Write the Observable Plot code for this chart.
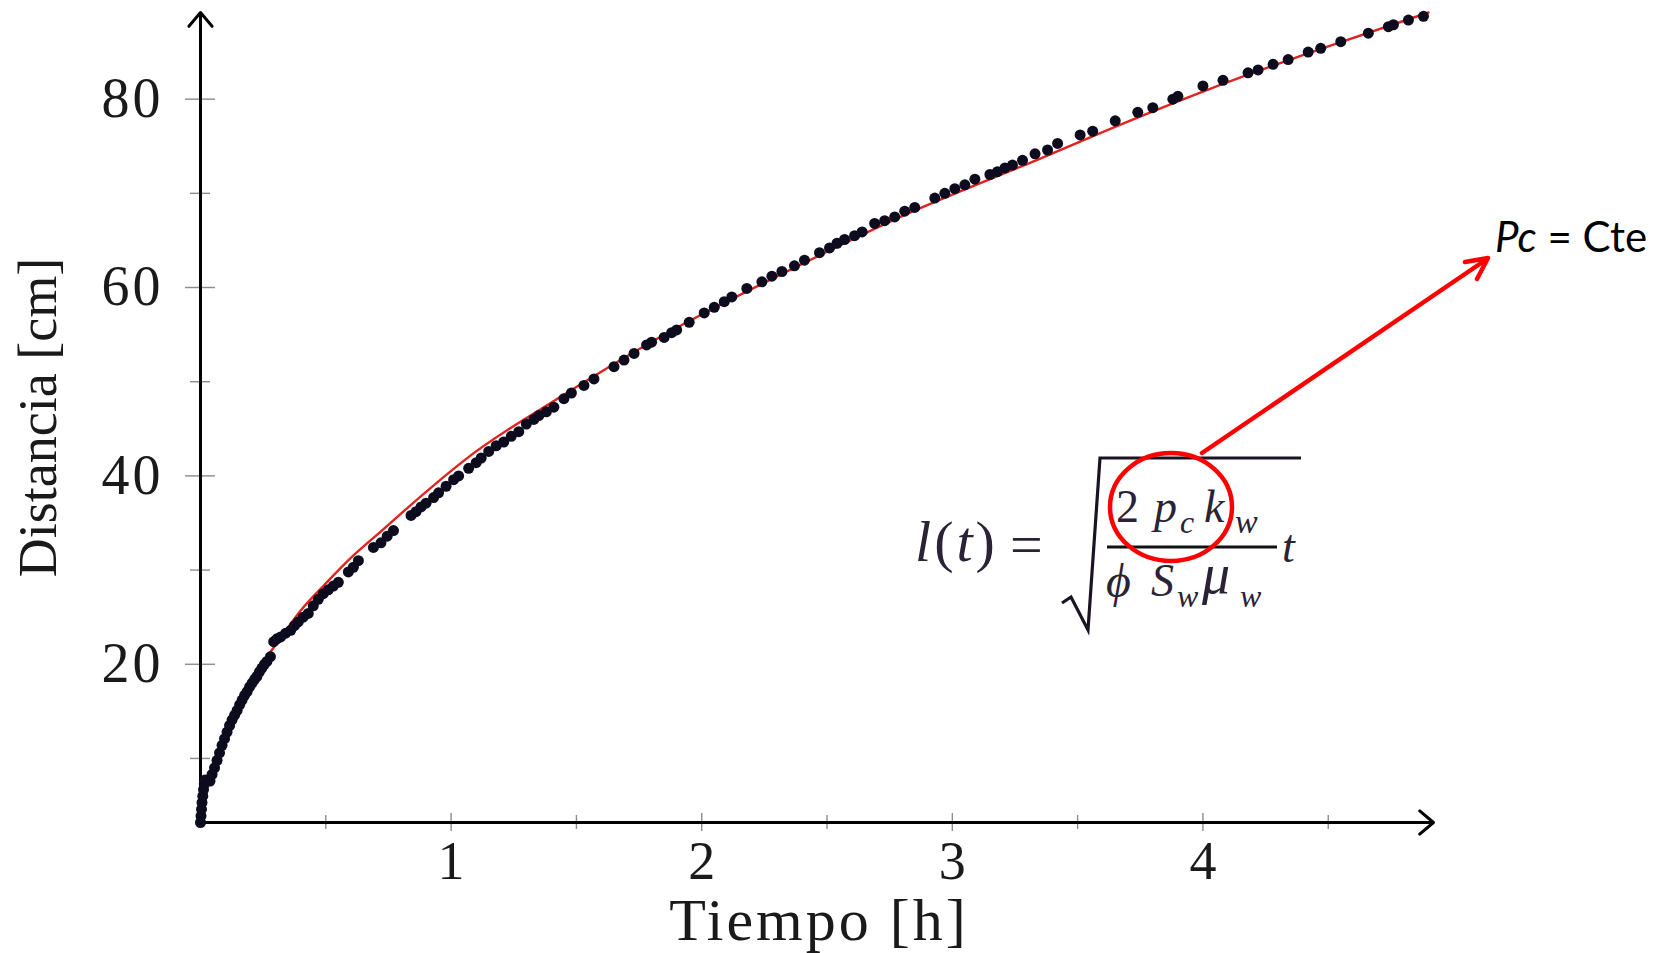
<!DOCTYPE html>
<html>
<head>
<meta charset="utf-8">
<script src="https://cdn.jsdelivr.net/npm/d3@7"></script>
<script src="https://cdn.jsdelivr.net/npm/@observablehq/plot@0.6"></script>
<style>
  html, body { margin: 0; padding: 0; background: #fff; }
  #chart { width: 1663px; height: 953px; }
</style>
</head>
<body>
<div id="chart"></div>
<script>
// ---- data ----
const tiempo = [
  0.000, 0.002, 0.004, 0.006, 0.009, 0.012, 0.015, 0.018, 0.038, 0.046,
  0.056, 0.066, 0.076, 0.086, 0.096, 0.106, 0.116, 0.126, 0.136, 0.146,
  0.156, 0.166, 0.176, 0.186, 0.196, 0.206, 0.216, 0.225, 0.235, 0.245,
  0.255, 0.265, 0.279, 0.292, 0.305, 0.320, 0.340, 0.360, 0.375, 0.390,
  0.410, 0.430, 0.450, 0.470, 0.490, 0.510, 0.530, 0.550, 0.590, 0.610,
  0.630, 0.690, 0.720, 0.745, 0.770, 0.840, 0.860, 0.880, 0.900, 0.930,
  0.950, 0.980, 1.010, 1.030, 1.070, 1.100, 1.120, 1.150, 1.180, 1.210,
  1.240, 1.270, 1.300, 1.330, 1.350, 1.380, 1.410, 1.450, 1.480, 1.530,
  1.570, 1.650, 1.690, 1.730, 1.780, 1.800, 1.850, 1.880, 1.900, 1.950,
  2.010, 2.050, 2.090, 2.120, 2.180, 2.240, 2.280, 2.320, 2.370, 2.410,
  2.470, 2.510, 2.540, 2.570, 2.610, 2.640, 2.690, 2.730, 2.770, 2.810,
  2.850, 2.930, 2.970, 3.010, 3.050, 3.090, 3.150, 3.180, 3.210, 3.240,
  3.280, 3.330, 3.380, 3.420, 3.510, 3.560, 3.650, 3.740, 3.800, 3.880,
  3.900, 4.000, 4.080, 4.180, 4.220, 4.280, 4.340, 4.420, 4.470, 4.550,
  4.660, 4.740, 4.760, 4.820, 4.880
];
const distancia = [
  3.2, 3.9, 4.6, 5.3, 6.0, 6.7, 7.3, 7.7, 7.6, 8.3,
  9.0, 9.8, 10.6, 11.4, 12.1, 12.8, 13.5, 14.1, 14.6, 15.1,
  15.7, 16.2, 16.7, 17.1, 17.6, 18.0, 18.4, 18.7, 19.2, 19.6,
  20.0, 20.3, 20.8, 22.4, 22.7, 22.9, 23.3, 23.6, 24.1, 24.5,
  25.0, 25.4, 26.2, 26.9, 27.5, 27.9, 28.3, 28.7, 29.8, 30.3,
  31.0, 32.4, 32.9, 33.6, 34.2, 35.8, 36.2, 36.7, 37.1, 37.7,
  38.2, 38.9, 39.6, 40.0, 40.8, 41.4, 41.9, 42.6, 43.2, 43.6,
  44.2, 44.7, 45.5, 46.0, 46.4, 46.8, 47.3, 48.2, 48.8, 49.6,
  50.3, 51.6, 52.3, 53.0, 53.9, 54.2, 54.7, 55.2, 55.5, 56.3,
  57.3, 57.9, 58.5, 59.0, 59.9, 60.6, 61.2, 61.7, 62.3, 62.9,
  63.7, 64.2, 64.7, 65.1, 65.5, 65.9, 66.8, 67.1, 67.5, 68.1,
  68.5, 69.5, 70.0, 70.5, 70.9, 71.5, 72.0, 72.3, 72.7, 73.0,
  73.5, 74.2, 74.6, 75.3, 76.2, 76.6, 77.7, 78.6, 79.1, 80.0,
  80.3, 81.4, 82.0, 82.8, 83.1, 83.7, 84.2, 85.0, 85.4, 86.1,
  87.0, 87.7, 87.9, 88.4, 88.8
];
// red fitted curve
const tAjuste = [0.00, 0.01, 0.03, 0.06, 0.10, 0.15, 0.20, 0.29, 0.40, 0.49, 0.60, 0.72, 0.80, 1.05, 1.28, 1.62, 1.99, 2.50, 2.87, 3.27, 3.51, 4.00, 4.50, 4.90];
const lAjuste = [3.2, 4.2, 7.2, 10.1, 13.0, 16.0, 18.4, 21.7, 25.7, 28.3, 31.3, 34.1, 36.0, 41.6, 45.8, 51.4, 57.0, 63.8, 68.4, 72.8, 75.5, 80.8, 85.6, 89.2];

const xTicksMayores = [1, 2, 3, 4];
const xTicksMenores = [0.5, 1.5, 2.5, 3.5, 4.5];
const yTicksMayores = [20, 40, 60, 80];
const yTicksMenores = [10, 30, 50, 70];
const xDominio = [0, 4.92];
const yDominio = [3.2, 89.2];
const etiquetaX = "Tiempo [h]";
const etiquetaY = "Distancia [cm]";
const notaPc = "Pc";
const notaResto = " = Cte";

const puntos = tiempo.map((t, i) => ({t, l: distancia[i]}));
const ajuste = tAjuste.map((t, i) => ({t, l: lAjuste[i]}));
const ejes = [
  {x1: xDominio[0], y1: yDominio[0], x2: xDominio[0], y2: yDominio[1]},
  {x1: xDominio[0], y1: yDominio[0], x2: xDominio[1], y2: yDominio[0]}
];

const serif = "'Liberation Serif', 'Times New Roman', serif";

const chart = Plot.plot({
  width: 1663,
  height: 953,
  marginLeft: 200,
  marginRight: 230,
  marginTop: 12,
  marginBottom: 131,
  style: {fontFamily: serif, background: "#fff", color: "#1a1a1a", overflow: "visible"},
  x: {domain: xDominio, axis: null},
  y: {domain: yDominio, axis: null},
  marks: [
    // tick marks crossing the axes
    Plot.axisX({ticks: xTicksMenores, tickSize: 14, dy: -7, tickFormat: () => "", label: null, stroke: "#8c8c8c", strokeWidth: 1.4}),
    Plot.axisX({ticks: xTicksMayores, tickSize: 18, dy: -9, tickFormat: () => "", label: null, stroke: "#8c8c8c", strokeWidth: 1.4}),
    Plot.axisY({ticks: yTicksMenores, tickSize: 20, dx: 10, tickFormat: () => "", label: null, stroke: "#8c8c8c", strokeWidth: 1.4}),
    Plot.axisY({ticks: yTicksMayores, tickSize: 30, dx: 15, tickFormat: () => "", label: null, stroke: "#8c8c8c", strokeWidth: 1.4}),
    // tick labels
    Plot.axisX({ticks: xTicksMayores, tickSize: 0, tickPadding: 18, tickFormat: d => String(d), label: null, fontSize: 54, fill: "#1a1a1a"}),
    Plot.axisY({ticks: yTicksMayores, tickSize: 0, tickPadding: 37, tickFormat: d => String(d), label: null, fontSize: 56, fill: "#1a1a1a"}),
    // axes with arrows
    Plot.arrow(ejes, {x1: "x1", y1: "y1", x2: "x2", y2: "y2", stroke: "#000", strokeWidth: 3, headLength: 9, headAngle: 80}),
    // fitted curve
    Plot.line(ajuste, {x: "t", y: "l", stroke: "#e3211f", strokeWidth: 2.4, curve: "natural"}),
    // measured points
    Plot.dot(puntos, {x: "t", y: "l", r: 5.5, fill: "#0c0c1e", stroke: null}),
    // axis titles
    Plot.text([etiquetaX], {text: d => d, frameAnchor: "bottom", lineAnchor: "middle", textAnchor: "middle", dy: 98, dx: 2, fontSize: 60, fill: "#1a1a1a"}),
    Plot.text([etiquetaY], {text: d => d, frameAnchor: "left", lineAnchor: "middle", textAnchor: "middle", dx: -162, rotate: -90, fontSize: 54, fill: "#1a1a1a"})
  ]
});

document.getElementById("chart").appendChild(chart);

const svg = d3.select(chart);
// widen the Computer-Modern-like labels
svg.selectAll("text").filter(function () { return this.textContent === etiquetaX; })
  .attr("letter-spacing", 3);
const yLabs = yTicksMayores.map(String);
svg.selectAll("text").filter(function () { return yLabs.includes(this.textContent); })
  .attr("letter-spacing", 3);

// ---- formula + red annotation overlay ----
const g = svg.append("g").attr("font-family", serif).attr("fill", "#2a2236").attr("text-anchor", "start");
function txt(x, y, s, size, italic) {
  g.append("text").attr("x", x).attr("y", y).attr("font-size", size)
    .attr("font-style", italic ? "italic" : "normal").text(s);
}
// l(t) =
const lt = g.append("text").attr("x", 915).attr("y", 561).attr("font-size", 58).attr("letter-spacing", 3);
lt.append("tspan").attr("font-style", "italic").text("l");
lt.append("tspan").text("(");
lt.append("tspan").attr("font-style", "italic").text("t");
lt.append("tspan").text(")");
txt(1010, 564, "=", 58, false);
// radical
g.append("path").attr("d", "M1062,603 L1071,597 L1088,630 L1100,458 L1301,458")
  .attr("fill", "none").attr("stroke", "#1a1422").attr("stroke-width", 3.2).attr("stroke-linejoin", "miter");
// numerator
txt(1116, 522, "2", 46, false);
txt(1154, 522, "p", 46, true);
txt(1180, 533, "c", 32, true);
txt(1204, 522, "k", 46, true);
txt(1235, 533, "w", 34, true);
// fraction bar
g.append("rect").attr("x", 1107).attr("y", 545.5).attr("width", 170).attr("height", 3).attr("fill", "#111");
txt(1282, 562, "t", 46, true);
// denominator
txt(1106, 597, "ϕ", 48, true);
txt(1151, 596, "S", 46, true);
txt(1177, 607, "w", 32, true);
txt(1202, 593, "μ", 56, true);
txt(1240, 607, "w", 32, true);

// red circle and arrow
svg.append("ellipse").attr("cx", 1171).attr("cy", 507).attr("rx", 61).attr("ry", 54)
  .attr("fill", "none").attr("stroke", "#ff0000").attr("stroke-width", 4.5);
svg.append("path").attr("d", "M1202,453 L1487,259 M1465,262 L1488,258 L1477,279")
  .attr("fill", "none").attr("stroke", "#ff0000").attr("stroke-width", 4.5)
  .attr("stroke-linecap", "round").attr("stroke-linejoin", "round");
const nota = svg.append("text").attr("x", 1495).attr("y", 252).attr("text-anchor", "start")
  .attr("font-family", "Lato, 'Open Sans', sans-serif").attr("font-size", 42).attr("fill", "#000");
nota.append("tspan").attr("font-style", "italic").text(notaPc);
nota.append("tspan").text(notaResto);
</script>
</body>
</html>
